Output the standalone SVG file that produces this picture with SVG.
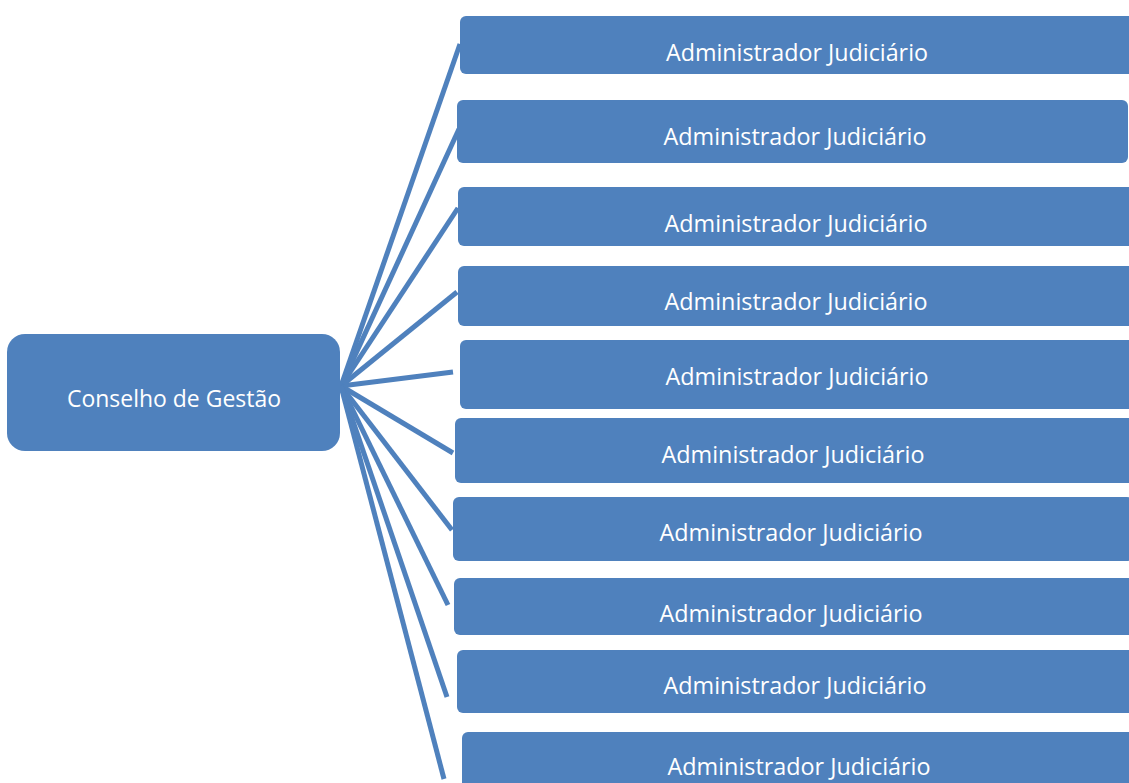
<svg xmlns="http://www.w3.org/2000/svg" width="1129" height="783" viewBox="0 0 1129 783">
  <style>
    .box { fill: #4F81BD; }
    .lbl { fill: #FFFFFF; font-family: "Open Sans", "Liberation Sans", sans-serif; font-size: 23px; text-anchor: middle; }
    .link { stroke: #4F81BD; stroke-width: 5; fill: none; stroke-linecap: butt; }
  </style>
  <rect width="1129" height="783" fill="#FFFFFF"/>

  <!-- connectors fanning out from the root node -->
  <g id="connectors">
    <line class="link" x1="341" y1="386" x2="460" y2="44"/>
    <line class="link" x1="341" y1="386" x2="459" y2="129"/>
    <line class="link" x1="341" y1="386" x2="458" y2="208"/>
    <line class="link" x1="341" y1="386" x2="457" y2="292"/>
    <line class="link" x1="341" y1="386" x2="453" y2="372"/>
    <line class="link" x1="341" y1="386" x2="453" y2="453"/>
    <line class="link" x1="341" y1="386" x2="452" y2="530"/>
    <line class="link" x1="341" y1="386" x2="448" y2="605"/>
    <line class="link" x1="341" y1="386" x2="447" y2="697"/>
    <line class="link" x1="341" y1="386" x2="444" y2="779"/>
  </g>

  <g id="root">
    <rect class="box" x="7" y="334" width="333" height="117" rx="18"/>
    <text class="lbl" x="174" y="407" textLength="214" lengthAdjust="spacingAndGlyphs">Conselho de Gestão</text>
  </g>

  <g id="admin1">
    <rect class="box" x="460" y="16" width="680" height="58" rx="6"/>
    <text class="lbl" x="797" y="61" textLength="262" lengthAdjust="spacingAndGlyphs">Administrador Judiciário</text>
  </g>
  <g id="admin2">
    <rect class="box" x="457" y="100" width="671" height="63" rx="6"/>
    <text class="lbl" x="795" y="145" textLength="263" lengthAdjust="spacingAndGlyphs">Administrador Judiciário</text>
  </g>
  <g id="admin3">
    <rect class="box" x="458" y="187" width="680" height="59" rx="6"/>
    <text class="lbl" x="796" y="232" textLength="263" lengthAdjust="spacingAndGlyphs">Administrador Judiciário</text>
  </g>
  <g id="admin4">
    <rect class="box" x="458" y="266" width="680" height="60" rx="6"/>
    <text class="lbl" x="796" y="310" textLength="263" lengthAdjust="spacingAndGlyphs">Administrador Judiciário</text>
  </g>
  <g id="admin5">
    <rect class="box" x="460" y="340" width="680" height="69" rx="6"/>
    <text class="lbl" x="797" y="385" textLength="263" lengthAdjust="spacingAndGlyphs">Administrador Judiciário</text>
  </g>
  <g id="admin6">
    <rect class="box" x="455" y="418" width="680" height="65" rx="6"/>
    <text class="lbl" x="793" y="463" textLength="263" lengthAdjust="spacingAndGlyphs">Administrador Judiciário</text>
  </g>
  <g id="admin7">
    <rect class="box" x="453" y="497" width="680" height="64" rx="6"/>
    <text class="lbl" x="791" y="541" textLength="263" lengthAdjust="spacingAndGlyphs">Administrador Judiciário</text>
  </g>
  <g id="admin8">
    <rect class="box" x="454" y="578" width="680" height="57" rx="6"/>
    <text class="lbl" x="791" y="622" textLength="263" lengthAdjust="spacingAndGlyphs">Administrador Judiciário</text>
  </g>
  <g id="admin9">
    <rect class="box" x="457" y="650" width="680" height="63" rx="6"/>
    <text class="lbl" x="795" y="694" textLength="263" lengthAdjust="spacingAndGlyphs">Administrador Judiciário</text>
  </g>
  <g id="admin10">
    <rect class="box" x="462" y="732" width="680" height="70" rx="6"/>
    <text class="lbl" x="799" y="775" textLength="263" lengthAdjust="spacingAndGlyphs">Administrador Judiciário</text>
  </g>
</svg>
